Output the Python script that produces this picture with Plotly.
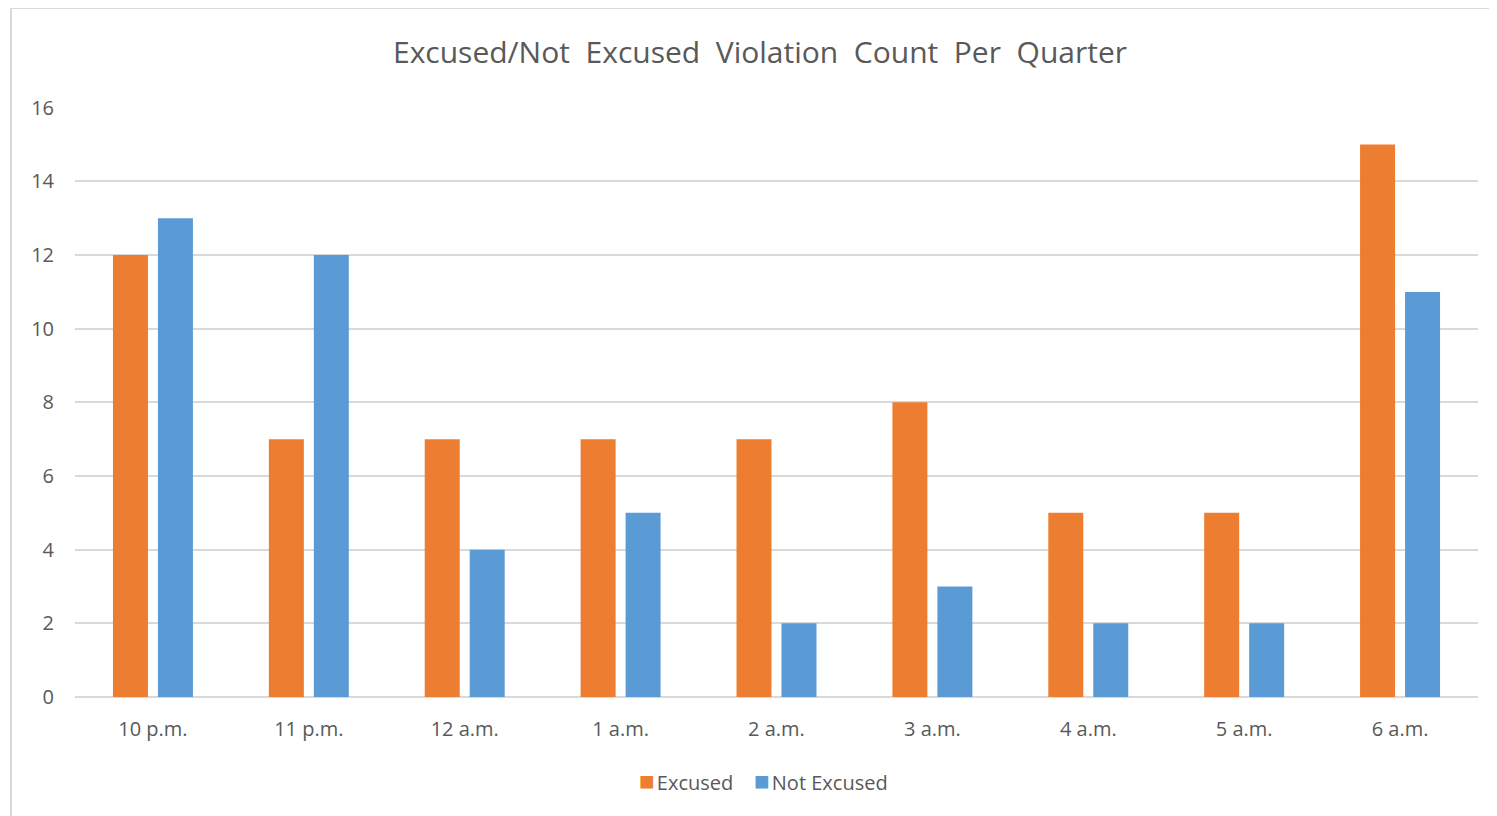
import plotly.graph_objects as go

categories = ["10 p.m.", "11 p.m.", "12 a.m.", "1 a.m.", "2 a.m.", "3 a.m.", "4 a.m.", "5 a.m.", "6 a.m."]
excused = [12, 7, 7, 7, 7, 8, 5, 5, 15]
not_excused = [13, 12, 4, 5, 2, 3, 2, 2, 11]
y_ticks = [0, 2, 4, 6, 8, 10, 12, 14, 16]
series_names = ["Excused", "Not Excused"]
series_colors = ["#ED7D31", "#5B9BD5"]

OFF = 8  # page body margin
W, H = 1497, 816
L, R, T, B = 75 - OFF, W - (1478 - OFF), 107 - OFF, H - (697 - OFF)
pw = W - L - R
ph = H - T - B

def px_x(x):
    return (x - OFF - L) / pw

def px_y(y):
    return (H - B - (y - OFF)) / ph

fig = go.Figure()
for name, vals, col in zip(series_names, [excused, not_excused], series_colors):
    fig.add_trace(go.Bar(name=name, x=categories, y=vals, marker=dict(color=col, line=dict(width=0)),
                         showlegend=False))

fig.add_shape(type="rect", xref="paper", yref="paper",
              x0=px_x(11), x1=px_x(W + 20), y0=px_y(H + 20), y1=px_y(8),
              line=dict(color="#D9D9D9", width=2), fillcolor="rgba(0,0,0,0)", layer="below")

font = "'Open Sans', sans-serif"
gray = "#595959"

legend_text = "&nbsp;&nbsp;&nbsp;&nbsp;".join(
    f"<span style='color:{c};font-size:26px'>■</span><span style='font-size:8px'>&nbsp;</span>{n}"
    for n, c in zip(series_names, series_colors))
fig.add_annotation(text=legend_text, xref="paper", yref="paper", x=px_x(763), y=px_y(780),
                   xanchor="center", yanchor="middle", showarrow=False,
                   font=dict(family=font, size=20, color=gray))

title_text = "Excused/Not&nbsp; Excused&nbsp; Violation&nbsp; Count&nbsp; Per&nbsp; Quarter"
fig.update_layout(
    width=W, height=H,
    margin=dict(l=L, r=R, t=T, b=B, autoexpand=False),
    paper_bgcolor="white", plot_bgcolor="white",
    barmode="group", bargap=0.423, bargroupgap=0.222,
    showlegend=False,
    title=dict(text=title_text, x=(760 - OFF) / W, xanchor="center",
               y=1 - (52 - OFF) / H, yanchor="middle", font=dict(family=font, size=30, color=gray)),
    font=dict(family=font, size=20, color=gray),
    xaxis=dict(showgrid=False, showline=False, ticks="", ticklabelstandoff=18,
               tickfont=dict(family=font, size=20, color=gray)),
    yaxis=dict(range=[0, 16.02], tickvals=y_ticks, showgrid=True, gridcolor="#D9D9D9", gridwidth=1.5,
               zeroline=True, zerolinecolor="#D9D9D9", zerolinewidth=1.5, showline=False, ticks="",
               ticklabelstandoff=20, tickfont=dict(family=font, size=20, color=gray)),
)

fig.write_html("out.html")
